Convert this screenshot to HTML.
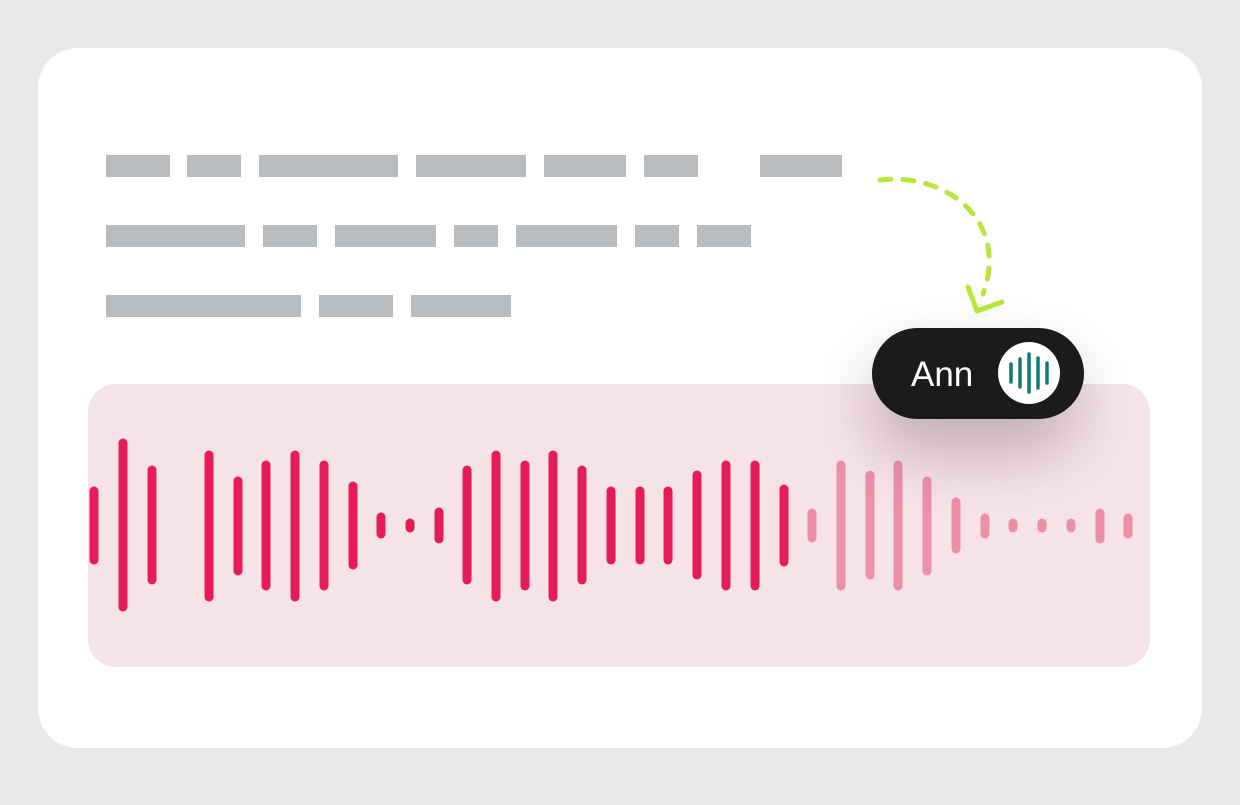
<!DOCTYPE html>
<html><head><meta charset="utf-8"><style>
body{margin:0;width:1240px;height:800px;background:#e9e9e9;overflow:hidden;font-family:"Liberation Sans",sans-serif}
</style></head><body>
<svg width="1240" height="800" xmlns="http://www.w3.org/2000/svg">
<defs>
<filter id="sh" x="-80%" y="-150%" width="260%" height="500%"><feGaussianBlur stdDeviation="30"/></filter>
</defs>
<rect x="0" y="0" width="1240" height="800" rx="36" fill="#e9e9e9"/>
<rect x="38" y="48" width="1164" height="700" rx="40" fill="#ffffff"/>
<g fill="#b8bcbf">
<rect x="106" y="155" width="64" height="22"/><rect x="187" y="155" width="54" height="22"/><rect x="259" y="155" width="139" height="22"/><rect x="416" y="155" width="110" height="22"/><rect x="544" y="155" width="82" height="22"/><rect x="644" y="155" width="54" height="22"/><rect x="760" y="155" width="82" height="22"/>
<rect x="106" y="225" width="139" height="22"/><rect x="263" y="225" width="54" height="22"/><rect x="335" y="225" width="101" height="22"/><rect x="454" y="225" width="44" height="22"/><rect x="516" y="225" width="101" height="22"/><rect x="635" y="225" width="44" height="22"/><rect x="697" y="225" width="54" height="22"/>
<rect x="106" y="295" width="195" height="22"/><rect x="319" y="295" width="74" height="22"/><rect x="411" y="295" width="100" height="22"/>
</g>
<rect x="88" y="384" width="1062" height="283" rx="28" fill="#f5e3e7"/>
<g stroke-linecap="round" stroke-width="9">
<g stroke="#e61b5a">
<line x1="94" y1="491" x2="94" y2="560"/><line x1="123" y1="443" x2="123" y2="607"/><line x1="152" y1="470" x2="152" y2="580"/>
<line x1="209" y1="455" x2="209" y2="597"/><line x1="238" y1="481" x2="238" y2="571"/><line x1="266" y1="465" x2="266" y2="586"/><line x1="295" y1="455" x2="295" y2="597"/><line x1="324" y1="465" x2="324" y2="586"/><line x1="353" y1="486" x2="353" y2="565"/>
<line x1="381" y1="517" x2="381" y2="534"/><line x1="410" y1="523" x2="410" y2="528"/><line x1="439" y1="512" x2="439" y2="539"/>
<line x1="467" y1="470" x2="467" y2="580"/><line x1="496" y1="455" x2="496" y2="597"/><line x1="525" y1="465" x2="525" y2="586"/><line x1="553" y1="455" x2="553" y2="597"/><line x1="582" y1="470" x2="582" y2="580"/>
<line x1="611" y1="491" x2="611" y2="560"/><line x1="640" y1="491" x2="640" y2="560"/><line x1="668" y1="491" x2="668" y2="560"/><line x1="697" y1="475" x2="697" y2="575"/><line x1="726" y1="465" x2="726" y2="586"/><line x1="755" y1="465" x2="755" y2="586"/><line x1="784" y1="489" x2="784" y2="562"/>
</g>
<g stroke="#eb8fab">
<line x1="812" y1="513" x2="812" y2="538"/><line x1="841" y1="465" x2="841" y2="586"/><line x1="870" y1="475" x2="870" y2="575"/><line x1="898" y1="465" x2="898" y2="586"/><line x1="927" y1="481" x2="927" y2="571"/><line x1="956" y1="502" x2="956" y2="549"/>
<line x1="985" y1="518" x2="985" y2="534"/><line x1="1013" y1="523" x2="1013" y2="528"/><line x1="1042" y1="523" x2="1042" y2="528"/><line x1="1071" y1="523" x2="1071" y2="528"/><line x1="1100" y1="513" x2="1100" y2="539"/><line x1="1128" y1="518" x2="1128" y2="534"/>
</g>
</g>
<rect x="870" y="355" width="210" height="100" rx="50" fill="#5a3a44" opacity="0.3" filter="url(#sh)"/>
<path d="M880,180 C945,172 1010,220 983,294" fill="none" stroke="#b5e83a" stroke-width="5" stroke-linecap="round" stroke-dasharray="11 12"/>
<path d="M968,287 L977,311 L1002,302" fill="none" stroke="#b5e83a" stroke-width="5" stroke-linecap="round" stroke-linejoin="round"/>
<rect x="872" y="328" width="212" height="91" rx="45.5" fill="#1b1b1b"/>
<text x="911" y="386" font-family="Liberation Sans, sans-serif" font-size="35" fill="#ffffff">Ann</text>
<circle cx="1029" cy="373" r="31" fill="#ffffff"/>
<g stroke="#0f7a72" stroke-width="3.5" stroke-linecap="round">
<line x1="1011" y1="364" x2="1011" y2="382"/><line x1="1020" y1="359" x2="1020" y2="387"/><line x1="1029" y1="354" x2="1029" y2="392"/><line x1="1038" y1="358" x2="1038" y2="388"/><line x1="1047" y1="363" x2="1047" y2="383"/>
</g>
</svg>
</body></html>
